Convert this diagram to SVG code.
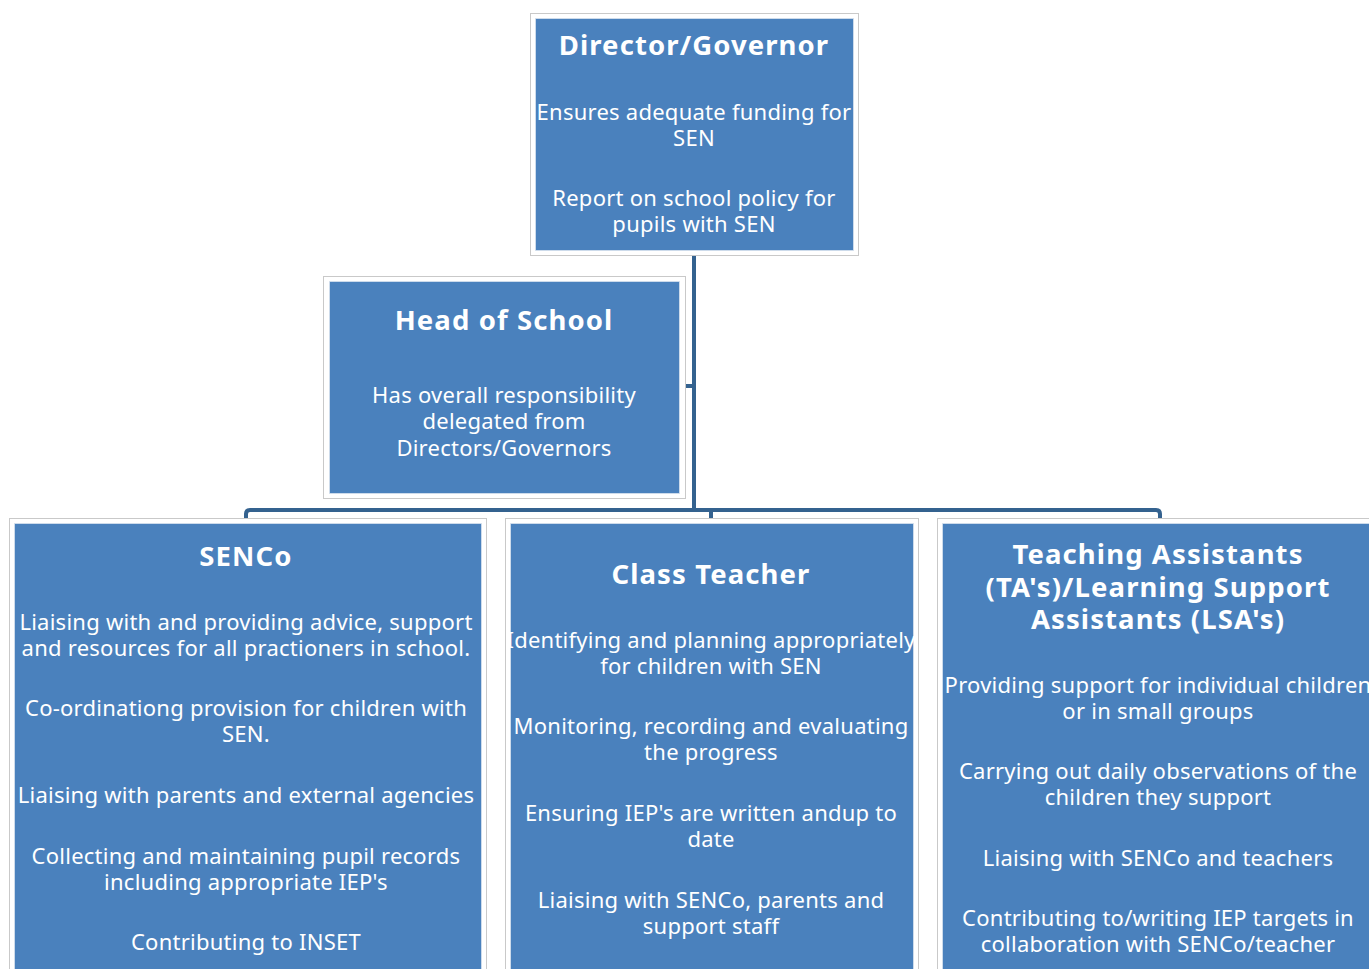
<svg xmlns="http://www.w3.org/2000/svg" width="1369" height="969" viewBox="0 0 1369 969">
<style>
.frame{fill:#ffffff;stroke:#c9c9c9;stroke-width:1}
.box{fill:#4a81bd;stroke:#d7e1ee;stroke-width:0.8}
.conn{fill:none;stroke:#34628f;stroke-width:4;stroke-linejoin:round}
text{fill:#ffffff;font-family:"Noto Sans","DejaVu Sans",sans-serif;text-anchor:middle}
.t{font-size:27.5px;font-weight:bold;letter-spacing:1.1px}
.b{font-size:22px;letter-spacing:0.25px}
</style>
<rect width="1369" height="969" fill="#ffffff"/>
<g id="connectors">
<path class="conn" d="M694,255 V386 M685,386 H694 M694,386 V508 Q694,510 696,510 H709 Q711,510 711,512 V518"/>
<path class="conn" d="M246,518 V514 Q246,510 250,510 H1156 Q1160,510 1160,514 V518"/>
</g>
<g id="director">
<rect class="frame" x="530.5" y="13.5" width="328" height="242"/>
<rect class="box" x="535.5" y="18.5" width="318" height="232"/>
<text class="t" x="694" y="55">Director/Governor</text>
<text class="b" x="694" y="120">Ensures adequate funding for</text>
<text class="b" x="694" y="146">SEN</text>
<text class="b" x="694" y="206">Report on school policy for</text>
<text class="b" x="694" y="232">pupils with SEN</text>
</g>
<g id="head">
<rect class="frame" x="323.5" y="276.5" width="362" height="222"/>
<rect class="box" x="329.5" y="281.5" width="350" height="212"/>
<text class="t" x="504" y="330">Head of School</text>
<text class="b" x="504" y="403">Has overall responsibility</text>
<text class="b" x="504" y="429">delegated from</text>
<text class="b" x="504" y="456">Directors/Governors</text>
</g>
<g id="senco">
<rect class="frame" x="9.5" y="518.5" width="477" height="470"/>
<rect class="box" x="14.5" y="523.5" width="467" height="460"/>
<text class="t" x="246" y="566">SENCo</text>
<text class="b" x="246" y="630">Liaising with and providing advice, support</text>
<text class="b" x="246" y="656">and resources for all practioners in school.</text>
<text class="b" x="246" y="716">Co-ordinationg provision for children with</text>
<text class="b" x="246" y="742">SEN.</text>
<text class="b" x="246" y="803">Liaising with parents and external agencies</text>
<text class="b" x="246" y="864">Collecting and maintaining pupil records</text>
<text class="b" x="246" y="890">including appropriate IEP's</text>
<text class="b" x="246" y="950">Contributing to INSET</text>
</g>
<g id="classteacher">
<rect class="frame" x="505.5" y="518.5" width="413" height="470"/>
<rect class="box" x="510.5" y="523.5" width="403" height="460"/>
<text class="t" x="711" y="584">Class Teacher</text>
<text class="b" x="711" y="648">Identifying and planning appropriately</text>
<text class="b" x="711" y="674">for children with SEN</text>
<text class="b" x="711" y="734">Monitoring, recording and evaluating</text>
<text class="b" x="711" y="760">the progress</text>
<text class="b" x="711" y="821">Ensuring IEP's are written andup to</text>
<text class="b" x="711" y="847">date</text>
<text class="b" x="711" y="908">Liaising with SENCo, parents and</text>
<text class="b" x="711" y="934">support staff</text>
</g>
<g id="assistants">
<rect class="frame" x="937.5" y="518.5" width="450" height="470"/>
<rect class="box" x="942.5" y="523.5" width="440" height="460"/>
<text class="t" x="1158" y="564">Teaching Assistants</text>
<text class="t" x="1158" y="597">(TA's)/Learning Support</text>
<text class="t" x="1158" y="629">Assistants (LSA's)</text>
<text class="b" x="1158" y="693">Providing support for individual children</text>
<text class="b" x="1158" y="719">or in small groups</text>
<text class="b" x="1158" y="779">Carrying out daily observations of the</text>
<text class="b" x="1158" y="805">children they support</text>
<text class="b" x="1158" y="866">Liaising with SENCo and teachers</text>
<text class="b" x="1158" y="926">Contributing to/writing IEP targets in</text>
<text class="b" x="1158" y="952">collaboration with SENCo/teacher</text>
</g>
</svg>
